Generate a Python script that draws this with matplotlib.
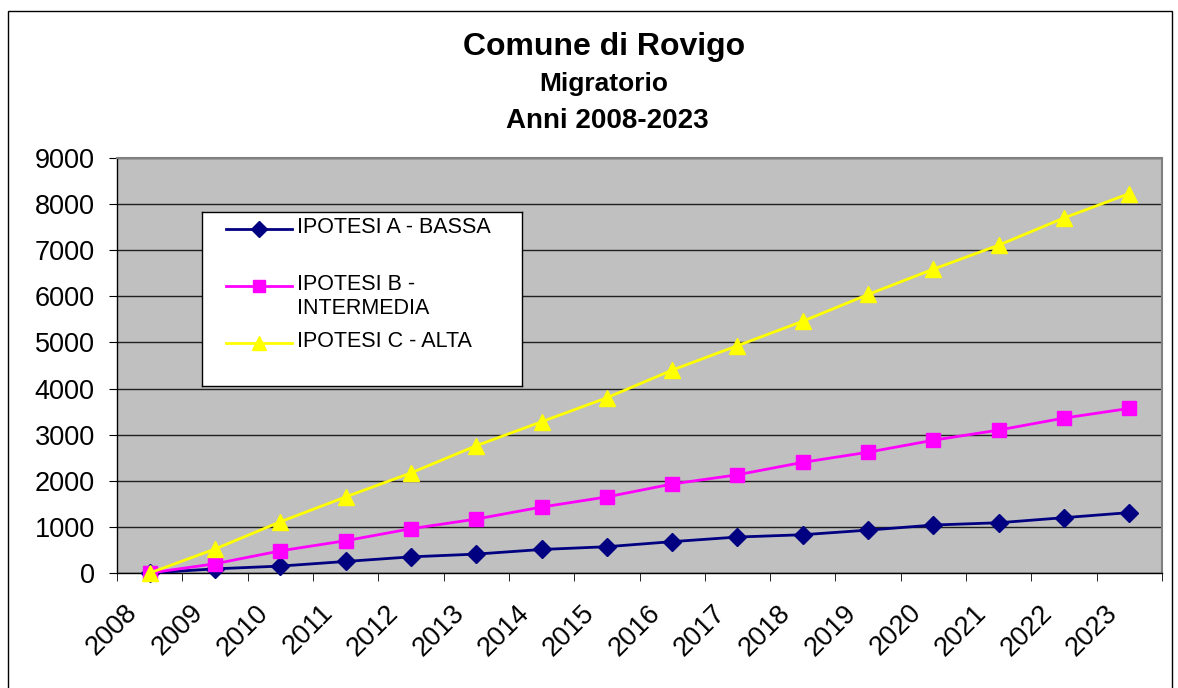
import matplotlib.pyplot as plt
from matplotlib.lines import Line2D
from matplotlib.patches import Rectangle
from matplotlib.ticker import MultipleLocator, FixedLocator
import matplotlib.transforms as mtransforms

plt.rcParams['font.family'] = ['Liberation Sans', 'DejaVu Sans']

anni = ['2008', '2009', '2010', '2011', '2012', '2013', '2014', '2015',
        '2016', '2017', '2018', '2019', '2020', '2021', '2022', '2023']
ipotesi_a = [0, 90, 150, 250, 350, 410, 510, 570, 680, 780, 830, 930, 1040, 1090, 1200, 1310]
ipotesi_b = [0, 200, 480, 700, 960, 1170, 1430, 1650, 1930, 2130, 2400, 2620, 2880, 3100, 3360, 3570]
ipotesi_c = [0, 520, 1110, 1650, 2170, 2760, 3280, 3800, 4400, 4930, 5460, 6040, 6590, 7110, 7700, 8230]

nomi = ['IPOTESI A - BASSA', 'IPOTESI B -\nINTERMEDIA', 'IPOTESI C - ALTA']
colori = ['#000080', '#FF00FF', '#FFFF00']
marker = ['D', 's', '^']
msize = [9, 9.5, 11]

W, H = 1178, 688
fig = plt.figure(figsize=(W / 100, H / 100), dpi=100)
fig.patch.set_facecolor('white')

# bordo esterno del grafico
fig.patches.append(Rectangle((8 / W, -0.02), (1172 - 8) / W, 1 - 11 / H + 0.02,
                             transform=fig.transFigure, fill=False,
                             edgecolor='black', linewidth=1))

ax = fig.add_axes([117 / W, 1 - 573 / H, (1162 - 117) / W, (573 - 158) / H])
ax.set_facecolor('#C0C0C0')

x = list(range(len(anni)))
for serie, c, m, s in zip([ipotesi_a, ipotesi_b, ipotesi_c], colori, marker, msize):
    ax.plot(x, serie, color=c, marker=m, markersize=s, linewidth=2,
            markeredgecolor=c, zorder=3, clip_on=False)

ax.set_xlim(-0.5, len(anni) - 0.5)
ax.set_ylim(0, 9000)
ax.yaxis.set_major_locator(MultipleLocator(1000))
ax.grid(axis='y', color='#202020', linewidth=1)
ax.set_axisbelow(True)

ax.xaxis.set_minor_locator(FixedLocator([i - 0.5 for i in range(len(anni) + 1)]))
ax.tick_params(axis='x', which='major', length=0)
ax.tick_params(axis='x', which='minor', length=6, direction='out', color='black')
ax.tick_params(axis='y', length=6, direction='out', labelsize=19.5, pad=10)

ax.set_xticks(x)
ax.set_xticklabels(anni, rotation=45, ha='right', va='center',
                   rotation_mode='anchor', fontsize=19.5)
# etichette spostate come in Excel (dopo tick_params, che le reimposta)
offset = mtransforms.ScaledTranslation(-0.16, -0.31, fig.dpi_scale_trans)
for lab in ax.get_xticklabels():
    lab.set_transform(lab.get_transform() + offset)

for lato in ['top', 'right']:
    ax.spines[lato].set_color('#808080')
    ax.spines[lato].set_linewidth(1.5)
for lato in ['left', 'bottom']:
    ax.spines[lato].set_color('black')
    ax.spines[lato].set_linewidth(1)

# titoli
fig.text(604 / W, 1 - 47 / H, 'Comune di Rovigo', ha='center', va='center',
         fontsize=23, fontweight='bold')
fig.text(604 / W, 1 - 84 / H, 'Migratorio', ha='center', va='center',
         fontsize=19, fontweight='bold')
fig.text(607 / W, 1 - 121 / H, 'Anni 2008-2023', ha='center', va='center',
         fontsize=20, fontweight='bold')

# legenda
lg = fig.add_axes([202 / W, 1 - 386 / H, (522 - 202) / W, (386 - 212) / H])
lg.set_xlim(202, 522)
lg.set_ylim(386, 212)
lg.set_xticks([])
lg.set_yticks([])
for sp in lg.spines.values():
    sp.set_linewidth(1)
    sp.set_color('black')
righe_y = [229, 286, 343]
for nome, c, m, s, yy in zip(nomi, colori, marker, msize, righe_y):
    lg.add_line(Line2D([226, 292], [yy, yy], color=c, linewidth=2))
    lg.add_line(Line2D([259], [yy], color=c, marker=m, markersize=s * 0.9,
                       markeredgecolor=c))
    lg.text(297, yy - 12, nome, ha='left', va='top', fontsize=15.5,
            linespacing=1.2)

fig.savefig('out.png', dpi=100)
